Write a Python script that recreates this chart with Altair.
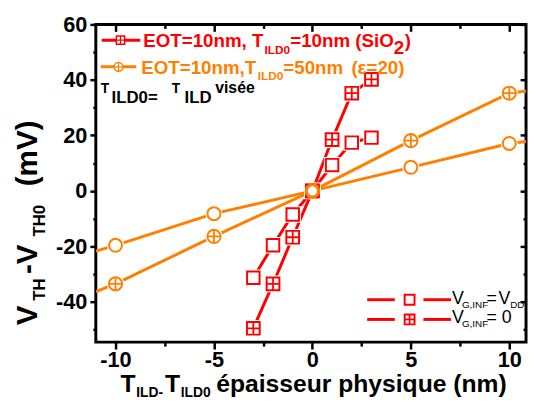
import altair as alt
import pandas as pd

# ---------------- data ----------------
x_red = [-3, -2, -1, 0, 1, 2, 3]
y_red_vdd = [-31.3, -19.6, -8.5, 0, 9.3, 17.4, 19.2]     # V_G,INF = V_DD (open squares)
y_red_zero = [-49.5, -33.5, -16.7, 0, 18.5, 35.2, 40.2]  # V_G,INF = 0 (crossed squares)

x_orange = [-10, -5, 0, 5, 10]
y_or_open = [-19.6, -8.2, 0, 8.5, 17.1]
y_or_cross = [-33.5, -16.4, 0, 18.1, 35.2]
# the orange lines run on to the frame edges
x_orange_edges = [-11, 10.85]
y_or_open_edges = [-21.7, 17.8]
y_or_cross_edges = [-36.3, 36.0]

x_major = [-10, -5, 0, 5, 10]
x_minor = [-7.5, -2.5, 2.5, 7.5]
y_major = [-40, -20, 0, 20, 40, 60]
y_minor = [-50, -30, -10, 10, 30, 50]

RED = "#ff0000"
ORANGE = "#ff8000"
FONT = "Liberation Sans"

series = ["red_vdd", "red_zero", "or_open", "or_cross"]
colors = [RED, RED, ORANGE, ORANGE]

pts = pd.concat([
    pd.DataFrame({"x": x_red, "y": y_red_vdd, "s": "red_vdd"}),
    pd.DataFrame({"x": x_red, "y": y_red_zero, "s": "red_zero"}),
    pd.DataFrame({"x": x_orange, "y": y_or_open, "s": "or_open"}),
    pd.DataFrame({"x": x_orange, "y": y_or_cross, "s": "or_cross"}),
], ignore_index=True)

lines = pd.concat([
    pts,
    pd.DataFrame({"x": x_orange_edges, "y": y_or_open_edges, "s": "or_open"}),
    pd.DataFrame({"x": x_orange_edges, "y": y_or_cross_edges, "s": "or_cross"}),
], ignore_index=True)

crossed = pts[pts["s"].isin(["red_zero", "or_cross"])]

xs = alt.Scale(domain=[-11, 10.85], nice=False, zero=False)
ys = alt.Scale(domain=[-54.5, 60], nice=False, zero=False)
cscale = alt.Scale(domain=series, range=colors)
shape_scale = alt.Scale(domain=series, range=["square", "square", "circle", "circle"])
size_scale = alt.Scale(domain=series, range=[100, 115, 130, 130])
halo_scale = alt.Scale(domain=series, range=[160, 180, 200, 200])

PLUS = "M-1,0H1M0,-1V1"

common_axis = dict(domain=False, grid=False, tickColor="black", tickWidth=2.5,
                   title=None, labelFlush=False, labelOverlap=False)


def lab_axis(orient, values, size, pad):
    return alt.Axis(orient=orient, values=values, tickSize=size, labelFont=FONT,
                    labelFontSize=22, labelFontWeight="bold", labelColor="black",
                    labelPadding=pad, labelExpr="'' + datum.value", **common_axis)


def plain_axis(orient, values, size, offset=0):
    return alt.Axis(orient=orient, values=values, tickSize=size, labels=False,
                    offset=offset, **common_axis)


# lines (carry the labelled axes)
line_layer = alt.Chart(lines).mark_line(strokeWidth=3, clip=True).encode(
    x=alt.X("x:Q", scale=xs, axis=lab_axis("bottom", x_major, 7, 1)),
    y=alt.Y("y:Q", scale=ys, axis=lab_axis("left", y_major, 6, 3)),
    color=alt.Color("s:N", scale=cscale, legend=None),
    order=alt.Order("x:Q"),
)

halo_layer = alt.Chart(pts).mark_point(filled=True, fill="white", stroke="white",
                                       strokeWidth=4, opacity=1).encode(
    x=alt.X("x:Q", scale=xs, axis=plain_axis("bottom", x_minor, 4)),
    y=alt.Y("y:Q", scale=ys, axis=plain_axis("left", y_minor, 3)),
    shape=alt.Shape("s:N", scale=shape_scale, legend=None),
    size=alt.Size("s:N", scale=halo_scale, legend=None),
)

marker_layer = alt.Chart(pts).mark_point(filled=True, fill="white", fillOpacity=1,
                                         strokeWidth=2, opacity=1).encode(
    x=alt.X("x:Q", scale=xs, axis=plain_axis("top", x_major, 7, -7)),
    y=alt.Y("y:Q", scale=ys, axis=plain_axis("right", y_major, 6, -6)),
    shape=alt.Shape("s:N", scale=shape_scale, legend=None),
    size=alt.Size("s:N", scale=size_scale, legend=None),
    stroke=alt.Stroke("s:N", scale=cscale, legend=None),
)

plus_layer = alt.Chart(crossed).mark_point(shape=PLUS, strokeWidth=1.8, opacity=1,
                                           filled=False).encode(
    x=alt.X("x:Q", scale=xs, axis=plain_axis("top", x_minor, 4, -4)),
    y=alt.Y("y:Q", scale=ys, axis=plain_axis("right", y_minor, 3, -3)),
    size=alt.Size("s:N", scale=size_scale, legend=None),
    stroke=alt.Stroke("s:N", scale=cscale, legend=None),
)

# redraw the orange marker at the origin on top of the red ones
origin_fix = alt.Chart(pts[(pts["s"] == "or_open") & (pts["x"] == 0)]).mark_point(
    shape="circle", size=130, fill="white", fillOpacity=1, stroke=ORANGE,
    strokeWidth=2, opacity=1, filled=True).encode(
    x=alt.X("x:Q", scale=xs, axis=None), y=alt.Y("y:Q", scale=ys, axis=None))


# ---------------- annotation helpers (pixel positions in plot area) ----------------
def txt(s, x, y, size, color="black", bold=True, angle=None):
    kw = dict(align="left", baseline="alphabetic", fontSize=size, font=FONT,
              fontWeight="bold" if bold else "normal", fill=color)
    if angle is not None:
        kw["angle"] = angle
    return alt.Chart(pd.DataFrame({"t": [s]})).mark_text(**kw).encode(
        x=alt.value(x), y=alt.value(y), text="t:N")


def seg(x1, x2, y, color):
    return alt.Chart(pd.DataFrame({"a": [0]})).mark_rule(color=color, strokeWidth=3).encode(
        x=alt.value(x1), x2=alt.value(x2), y=alt.value(y))


def sym(x, y, shape, size, color, sw=2):
    return alt.Chart(pd.DataFrame({"a": [0]})).mark_point(
        shape=shape, size=size, fill="white", fillOpacity=1, stroke=color,
        strokeWidth=sw, opacity=1, filled=True).encode(x=alt.value(x), y=alt.value(y))


def plus(x, y, size, color, sw=1.5):
    return alt.Chart(pd.DataFrame({"a": [0]})).mark_point(
        shape=PLUS, size=size, stroke=color, strokeWidth=sw, opacity=1,
        filled=False).encode(x=alt.value(x), y=alt.value(y))


legend_top = [
    seg(6, 45, 16, RED), sym(25, 16, "square", 70, RED, 1.5), plus(25, 16, 70, RED, 1.2),
    txt("EOT=10nm, T", 48, 23, 19, RED), txt("ILD0", 171, 30, 12, RED),
    txt("=10nm (SiO", 197, 23, 19, RED), txt("2", 302, 30, 19, RED), txt(")", 313, 23, 19, RED),
    seg(5, 41, 43, ORANGE), sym(23, 43, "circle", 80, ORANGE, 1.5), plus(23, 43, 80, ORANGE, 1.2),
    txt("EOT=10nm,T", 46, 50, 19, ORANGE), txt("ILD0", 164, 56, 12, ORANGE),
    txt("=50nm", 190, 50, 19, ORANGE), txt("(ε=20)", 259, 50, 19, ORANGE),
    txt("T", 5, 70, 14), txt("ILD0=", 16, 80, 17), txt("T", 77, 70, 14),
    txt("ILD", 90, 80, 17), txt("visée", 121, 70, 16),
]

legend_bottom = [
    seg(275, 303, 279, RED), seg(332, 360, 279, RED), sym(318, 279, "square", 100, RED),
    seg(275, 303, 299, RED), seg(332, 360, 299, RED), sym(318, 299, "square", 100, RED),
    plus(318, 299, 100, RED, 1.8),
    txt("V", 361, 283, 18, bold=False), txt("G,INF", 371, 287, 10, bold=False),
    txt("=", 396, 283, 18, bold=False), txt("V", 408, 283, 18, bold=False),
    txt("DD", 420, 287, 10, bold=False),
    txt("V", 361, 303, 18, bold=False), txt("G,INF", 371, 307, 10, bold=False),
    txt("= 0", 396, 303, 18, bold=False),
]

x_title = [
    txt("T", 25, 373, 25), txt("ILD-", 41, 378, 14), txt("T", 70, 373, 25),
    txt("ILD0", 86, 378, 14), txt("épaisseur physique (nm)", 122, 373, 25),
]

y_title = [
    txt("V", -60, 305, 30, angle=270), txt("TH", -52, 280, 17, angle=270),
    txt("-V", -60, 253, 30, angle=270), txt("TH0", -52, 215, 17, angle=270),
    txt("(mV)", -60, 164, 30, angle=270),
]

chart = alt.layer(
    line_layer, halo_layer, marker_layer, plus_layer, origin_fix,
    *legend_top, *legend_bottom, *x_title, *y_title,
).resolve_axis(x="independent", y="independent").properties(
    width=436, height=322,
    autosize=alt.AutoSizeParams(type="none"),
    padding={"left": 89, "top": 14, "right": 2, "bottom": 56},
    background="white",
).configure_view(stroke="black", strokeWidth=3)

chart.save("out.html", embed_options={"renderer": "svg", "actions": False})
